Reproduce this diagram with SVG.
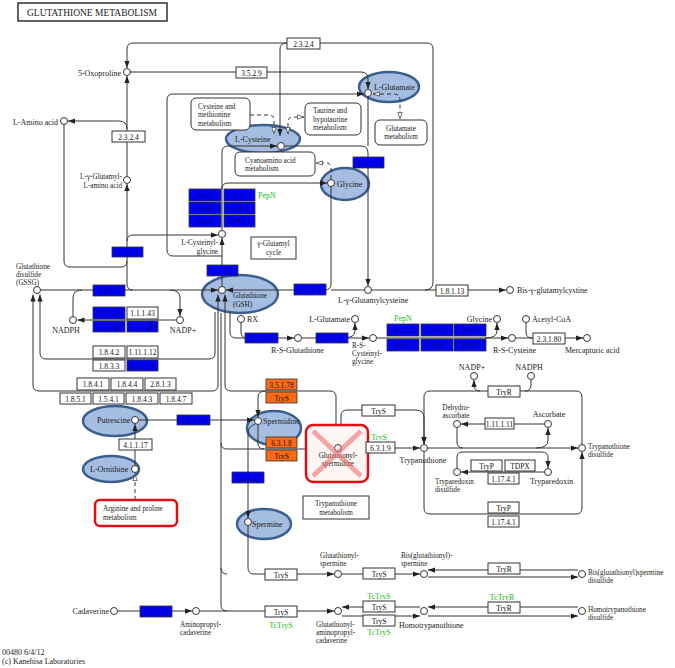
<svg xmlns="http://www.w3.org/2000/svg" width="675" height="668" viewBox="0 0 675 668">
<style>
.l{fill:none;stroke:#333;stroke-width:1}
.a{marker-end:url(#ar)}
.s{marker-start:url(#ar)}
.d{stroke-dasharray:4,3;marker-end:url(#ho)}
.ds{marker-start:url(#ho)}
.box{fill:#fff;stroke:#333;stroke-width:1}
.bb{fill:#0000f2;stroke:#333;stroke-width:0.8}
.ob{fill:#ff6a14;stroke:#333;stroke-width:0.8}
.cp{fill:#fff;stroke:#333;stroke-width:1}
.el{fill:#a4bde0;stroke:#3b5e8c;stroke-width:2.5}
.rb{fill:#fff;stroke:#333;stroke-width:1}
.t{font-family:"Liberation Serif",serif;font-size:8px;fill:#222}
.u{font-size:7.2px}
.bx{font-family:"Liberation Serif",serif;font-size:7.5px;fill:#111;text-anchor:middle}
.bt{fill:#00009a}
.m{text-anchor:middle}
.e{text-anchor:end}
.g{fill:#22bb22}
</style>
<defs>
<marker id="ar" viewBox="0 0 8 6" refX="8" refY="3" markerWidth="7" markerHeight="5.5" markerUnits="userSpaceOnUse" orient="auto-start-reverse"><path d="M0,0L8,3L0,6z" fill="#222"/></marker>
<marker id="ho" viewBox="0 0 8 6" refX="8" refY="3" markerWidth="7" markerHeight="5.5" markerUnits="userSpaceOnUse" orient="auto-start-reverse"><path d="M0.5,0.5L7.5,3L0.5,5.5z" fill="#fff" stroke="#333" stroke-width="0.8"/></marker>
</defs>
<rect width="675" height="668" fill="#fff"/>

<g id="title"><rect x="18" y="3" width="149" height="18" fill="#fff" stroke="#111" stroke-width="1.3"/><text x="27" y="16" font-family="Liberation Serif,serif" font-size="10" fill="#222" textLength="130" lengthAdjust="spacingAndGlyphs">GLUTATHIONE METABOLISM</text></g>

<!-- ellipse compounds -->
<g id="n_cys"><ellipse class="el" cx="263" cy="139" rx="37" ry="14"/><text class="t" x="235" y="142">L-Cysteine</text><circle class="cp" cx="281" cy="146" r="3.5"/></g>
<g id="n_glu"><ellipse class="el" cx="389" cy="87" rx="30" ry="15"/><text class="t" x="374" y="90">L-Glutamate</text><circle class="cp" cx="368" cy="93" r="3.5"/></g>
<g id="n_gly"><ellipse class="el" cx="345" cy="184" rx="24" ry="16"/><text class="t" x="337" y="187">Glycine</text><circle class="cp" cx="331" cy="183" r="3.5"/></g>
<g id="n_gsh"><ellipse class="el" cx="240" cy="294" rx="38" ry="19"/><text class="t u" x="233" y="298">Glutathione</text><text class="t u" x="233" y="307">(GSH)</text><circle class="cp" cx="222" cy="290" r="3.5"/></g>
<g id="n_putr"><ellipse class="el" cx="115" cy="421" rx="32" ry="15"/><text class="t" x="97" y="423">Putrescine</text><circle class="cp" cx="135" cy="420" r="3.5"/></g>
<g id="n_orn"><ellipse class="el" cx="111" cy="469" rx="28" ry="13"/><text class="t" x="90" y="472">L-Ornithine</text><circle class="cp" cx="135" cy="469" r="3.5"/></g>
<g id="n_spd"><ellipse class="el" cx="274" cy="428" rx="27" ry="17"/><text class="t" x="263" y="424">Spermidine</text><circle class="cp" cx="258" cy="421" r="3.5"/></g>
<g id="n_spm"><ellipse class="el" cx="264" cy="524" rx="27" ry="15"/><text class="t" x="252" y="527">Spermine</text><circle class="cp" cx="248" cy="522" r="3.5"/></g>

<g id="connectors">
<path class="l a" d="M425,290 Q433,290 433,282 L433,49 Q433,43 427,43 L133,43 Q127,43 127,49 L127,68"/>
<path class="l a" d="M287,43 Q280,43 280,49 L280,136"/>
<path class="l a" d="M131,72 L361,72 Q368,72 368,79 L368,89"/>
<path class="l a" d="M127,176 L127,76"/>
<path class="l a" d="M127,129 Q127,121 119,121 L68,121"/>
<path class="l" d="M64,125 L64,261 Q64,267 70,267 L121,267 Q127,267 127,261"/>
<path class="l a" d="M133,290 Q127,290 127,284 L127,184"/>
<path class="l a" d="M127,241 Q127,235 133,235 L218,235"/>
<path class="l a" d="M222,286 L222,238"/>
<path class="l a" d="M222,230 L222,152 Q222,146 228,146 L277,146"/>
<path class="l a" d="M222,189 Q222,183 228,183 L327,183"/>
<path class="l a" d="M222,256 L173,256 Q167,256 167,250 L167,100 Q167,94 173,94 L364,94"/>
<path class="l a" d="M285,146 L361,146 Q368,146 368,153 L368,286"/>
<path class="l" d="M368,97 L368,146"/>
<path class="l a" d="M331,187 L331,284 Q331,290 325,290 L226,290"/>
<path class="l" d="M364,290 L331,290"/>
<path class="l a" d="M372,290 L506,290"/>
<path class="l d" d="M250,115 L269,115 Q274,115 274,120 L274,134"/>
<path class="l d ds" d="M288,134 L288,122 Q288,117 293,117 L304,117"/>
<path class="l d" d="M331,179 L331,168 Q331,163 326,163 L316,163"/>
<path class="l d ds" d="M373,94 L394,94 Q400,94 400,100 L400,119"/>
<path class="l a" d="M41,290 L218,290"/>
<path class="l" d="M82,290 Q73,290 73,298 L73,316"/>
<path class="l a" d="M170,290 Q180,290 180,298 L180,316"/>
<path class="l a" d="M176.5,320 L77.5,320"/>
<path class="l s" d="M40,294.5 L40,353 Q40,359 46,359 L209,359 Q215,359 215,353 L215,312"/>
<path class="l a s" d="M218,294.5 L218,385 Q218,391 212,391 L39,391 Q33,391 33,385 L33,294.5"/>
<path class="l a s" d="M225,294.5 L225,385 Q225,391 231,391 L330,391 Q336,391 336,397 L336,443.5"/>
<path class="l" d="M221,313 L221,605 Q221,611 227,611"/>
<path class="l" d="M221,568 Q221,574 227,574"/>
<path class="l a" d="M221,443 Q221,449 227,449 L334,449"/>
<path class="l" d="M258,425 L258,443 Q258,449 264,449"/>
<path class="l a" d="M266,391 Q258,391 258,397 L258,417"/>
<path class="l a" d="M255,424 Q248,427 248,433 L248,518"/>
<path class="l a" d="M248,526 L248,568 Q248,574 254,574 L334,574"/>
<path class="l a" d="M139,420 L254,420"/>
<path class="l a" d="M135,465 L135,424"/>
<path class="l d" d="M135,500 L135,474"/>
<path class="l a" d="M230,312 L230,332 Q230,338 236,338 L294,338"/>
<path class="l" d="M241,323 L241,332 Q241,338 247,338"/>
<path class="l a" d="M302,338 L369,338"/>
<path class="l a" d="M343,338 Q355,338 355,331 L355,323"/>
<path class="l a" d="M377,338 L508,338"/>
<path class="l a" d="M485,338 Q497,338 497,331 L497,323"/>
<path class="l" d="M526,323 L526,332 Q526,338 532,338"/>
<path class="l a" d="M516,338 L583,338"/>
<path class="l a" d="M342,448 L420,448"/>
<path class="l a" d="M341,444 L341,416 Q341,410 347,410 L416,410 Q424,410 424,418 L424,444"/>
<path class="l a" d="M582,444 L582,397 Q582,391 576,391 L430,391 Q424,391 424,397 L424,444"/>
<path class="l" d="M531,380 L531,385 Q531,391 525,391"/>
<path class="l a" d="M480,391 Q474,391 474,385 L474,380"/>
<path class="l a" d="M428,448 L578,448"/>
<path class="l" d="M457,428 L457,442 Q457,448 463,448"/>
<path class="l a" d="M536,448 Q548,448 548,440 L548,428"/>
<path class="l a" d="M544,424 L461,424"/>
<path class="l a" d="M457,468 L457,457 Q457,452 463,452 L542,452 Q548,452 548,458 L548,468"/>
<path class="l a" d="M544,472 L461,472"/>
<path class="l a" d="M424,452 L424,508 Q424,514 430,514 L576,514 Q582,514 582,508 L582,452"/>
<path class="l a" d="M118,611 L192,611"/>
<path class="l a" d="M200,611 L334,611"/>
<path class="l a" d="M342,574 L420,574"/>
<path class="l a" d="M578,570 L428,570"/>
<path class="l a" d="M428,577 L578,577"/>
<path class="l a" d="M420,607 L342,607"/>
<path class="l a" d="M342,616 L420,616"/>
<path class="l a" d="M578,607 L428,607"/>
<path class="l a" d="M428,616 L578,616"/>
</g>

<!-- compounds -->
<g id="n_oxo"><circle class="cp" cx="127" cy="72" r="3.5"/><text class="t e" x="121" y="76">5-Oxoproline</text></g>
<g id="n_laa"><circle class="cp" cx="64" cy="121" r="3.5"/><text class="t e" x="58" y="125">L-Amino acid</text></g>
<g id="n_gglaa"><circle class="cp" cx="127" cy="180" r="3.5"/><text class="t u e" x="122" y="179">L-γ-Glutamyl-</text><text class="t u e" x="122" y="187.5">L-amino acid</text></g>
<g id="n_cysgly"><circle class="cp" cx="222" cy="234" r="3.5"/><text class="t u e" x="218" y="245">L-Cysteinyl-</text><text class="t u e" x="218" y="253.5">glycine</text></g>
<g id="n_gssg"><circle class="cp" cx="37" cy="290" r="3.5"/><text class="t u" x="16" y="269">Glutathione</text><text class="t u" x="16" y="277">disulfide</text><text class="t u" x="16" y="285">(GSSG)</text></g>
<g id="n_nadph"><circle class="cp" cx="73" cy="320" r="3.5"/><text class="t m" x="66" y="333">NADPH</text></g>
<g id="n_nadp"><circle class="cp" cx="180" cy="320" r="3.5"/><text class="t m" x="183" y="333">NADP+</text></g>
<g id="n_glucys"><circle class="cp" cx="368" cy="290" r="3.5"/><text class="t" x="338" y="303">L-γ-Glutamylcysteine</text></g>
<g id="n_bisg"><circle class="cp" cx="510" cy="290" r="3.5"/><text class="t" x="517" y="293">Bis-γ-glutamylcystine</text></g>
<g id="n_rx"><circle class="cp" cx="241" cy="319" r="3.5"/><text class="t" x="247" y="322">RX</text></g>
<g id="n_rsg"><circle class="cp" cx="298" cy="338" r="3.5"/><text class="t" x="271" y="353">R-S-Glutathione</text></g>
<g id="n_lglu2"><circle class="cp" cx="355" cy="319" r="3.5"/><text class="t e" x="350" y="322">L-Glutamate</text></g>
<g id="n_rscg"><circle class="cp" cx="373" cy="338" r="3.5"/><text class="t u" x="352" y="347.5">R-S-</text><text class="t u" x="352" y="355.5">Cysteinyl-</text><text class="t u" x="352" y="363.5">glycine</text></g>
<g id="n_gly2"><circle class="cp" cx="497" cy="319" r="3.5"/><text class="t e" x="492" y="322">Glycine</text></g>
<g id="n_rsc"><circle class="cp" cx="512" cy="338" r="3.5"/><text class="t" x="493" y="353">R-S-Cysteine</text></g>
<g id="n_acoa"><circle class="cp" cx="526" cy="319" r="3.5"/><text class="t" x="532" y="322">Acetyl-CoA</text></g>
<g id="n_merc"><circle class="cp" cx="587" cy="338" r="3.5"/><text class="t" x="565" y="353">Mercapturic acid</text></g>
<g id="n_nadp2"><circle class="cp" cx="474" cy="376" r="3.5"/><text class="t m" x="472" y="370">NADP+</text></g>
<g id="n_nadph2"><circle class="cp" cx="531" cy="376" r="3.5"/><text class="t m" x="529" y="370">NADPH</text></g>
<g id="n_dha"><circle class="cp" cx="457" cy="424" r="3.5"/><text class="t u m" x="456" y="409.5">Dehydro-</text><text class="t u m" x="456" y="417.5">ascorbate</text></g>
<g id="n_asc"><circle class="cp" cx="548" cy="424" r="3.5"/><text class="t m" x="549" y="417">Ascorbate</text></g>
<g id="n_tryp"><circle class="cp" cx="424" cy="448" r="3.5"/><text class="t m" x="423" y="463">Trypanothione</text></g>
<g id="n_trypd"><circle class="cp" cx="582" cy="448" r="3.5"/><text class="t u" x="588" y="449">Trypanothione</text><text class="t u" x="588" y="457">disulfide</text></g>
<g id="n_txnd"><circle class="cp" cx="457" cy="472" r="3.5"/><text class="t u" x="435" y="483.5">Tryparedoxin</text><text class="t u" x="435" y="491.5">disulfide</text></g>
<g id="n_txn"><circle class="cp" cx="548" cy="472" r="3.5"/><text class="t" x="530" y="484">Tryparedoxin</text></g>
<g id="n_glsp"><circle class="cp" cx="338" cy="574" r="3.5"/><text class="t u" x="320" y="558">Glutathionyl-</text><text class="t u" x="320" y="566">spermine</text></g>
<g id="n_bgsp"><circle class="cp" cx="424" cy="574" r="3.5"/><text class="t u" x="401" y="558">Bis(glutathionyl)-</text><text class="t u" x="401" y="566">spermine</text></g>
<g id="n_bgspd"><circle class="cp" cx="582" cy="574" r="3.5"/><text class="t u" x="588" y="574.5">Bis(glutathionyl)spermine</text><text class="t u" x="588" y="582.5">disulfide</text></g>
<g id="n_cad"><circle class="cp" cx="114" cy="611" r="3.5"/><text class="t e" x="109" y="614">Cadaverine</text></g>
<g id="n_apc"><circle class="cp" cx="196" cy="611" r="3.5"/><text class="t u" x="180" y="627">Aminopropyl-</text><text class="t u" x="180" y="635">cadaverine</text></g>
<g id="n_gapc"><circle class="cp" cx="338" cy="611" r="3.5"/><text class="t u" x="316" y="627">Glutathionyl-</text><text class="t u" x="316" y="635">aminopropyl-</text><text class="t u" x="316" y="643">cadaverine</text></g>
<g id="n_htr"><circle class="cp" cx="424" cy="611" r="3.5"/><text class="t" x="399" y="628">Homotrypanothione</text></g>
<g id="n_htrd"><circle class="cp" cx="582" cy="611" r="3.5"/><text class="t u" x="588" y="611.5">Homotrypanothione</text><text class="t u" x="588" y="619.5">disulfide</text></g>

<!-- glutathionylspermidine (crossed) -->
<g id="n_glspd"><rect x="306" y="425" width="62" height="57" rx="7" fill="#fdf5f3"/><circle class="cp" cx="338" cy="448" r="3.5"/><text class="t u m" x="338" y="458" fill="#555">Glutathionyl-</text><text class="t u m" x="338" y="466" fill="#555">spermidine</text><path d="M313,431 L361,476 M361,431 L313,476" stroke="#f07070" stroke-opacity="0.6" stroke-width="5" fill="none"/><rect x="306" y="425" width="62" height="57" rx="7" fill="none" stroke="#e01010" stroke-width="2.5"/></g>

<!-- maps -->
<g id="m_cysmet"><rect class="rb" x="191" y="98" width="59" height="32" rx="5"/><text class="t u" x="198" y="108.5">Cysteine and</text><text class="t u" x="198" y="117">methionine</text><text class="t u" x="198" y="125.5">metabolism</text></g>
<g id="m_taurine"><rect class="rb" x="305" y="103" width="56" height="32" rx="5"/><text class="t u" x="313" y="113">Taurine and</text><text class="t u" x="313" y="121.5">hypotaurine</text><text class="t u" x="313" y="130">metabolism</text></g>
<g id="m_glu"><rect class="rb" x="375" y="120" width="52" height="25" rx="5"/><text class="t u m" x="401" y="130.5">Glutamate</text><text class="t u m" x="401" y="139">metabolism</text></g>
<g id="m_cyano"><rect class="rb" x="235" y="152" width="80" height="24" rx="5"/><text class="t u" x="245" y="162.5">Cyanoamino acid</text><text class="t u" x="245" y="171">metabolism</text></g>
<g id="m_ggc"><rect class="rb" x="251" y="237" width="45" height="22"/><text class="t u m" x="273.5" y="246">γ-Glutamyl</text><text class="t u m" x="273.5" y="254.5">cycle</text></g>
<g id="m_tryp"><rect class="rb" x="303" y="496" width="66" height="23"/><text class="t u m" x="336" y="506">Trypanothione</text><text class="t u m" x="336" y="514.5">metabolism</text></g>
<g id="m_argpro"><rect x="95" y="500" width="82" height="26" rx="5" fill="#fff" stroke="#e01010" stroke-width="2.5"/><text class="t u" x="103" y="511">Arginine and proline</text><text class="t u" x="103" y="519.5">metabolism</text></g>

<!-- white enzyme boxes -->
<g id="e_2324t"><rect class="box" x="287" y="38" width="33" height="11"/><text class="bx" x="303.5" y="46.5">2.3.2.4</text></g>
<g id="e_3529"><rect class="box" x="236" y="67" width="31" height="11"/><text class="bx" x="251.5" y="75.5">3.5.2.9</text></g>
<g id="e_2324l"><rect class="box" x="112" y="131" width="33" height="11"/><text class="bx" x="128.5" y="139.5">2.3.2.4</text></g>
<g id="e_18113"><rect class="box" x="436" y="285" width="32" height="11"/><text class="bx" x="452" y="293.5">1.8.1.13</text></g>
<g id="e_23180"><rect class="box" x="533" y="333" width="32" height="11"/><text class="bx" x="549" y="341.5">2.3.1.80</text></g>
<g id="e_11143"><rect class="box" x="127" y="307" width="31" height="12"/><text class="bx" x="142.5" y="316">1.1.1.43</text></g>
<g id="e_1842"><rect class="box" x="93" y="346" width="32" height="12"/><text class="bx" x="109" y="355">1.8.4.2</text></g>
<g id="e_111112"><rect class="box" x="127" y="346" width="31" height="12"/><text class="bx" x="142.5" y="355">1.11.1.12</text></g>
<g id="e_1833"><rect class="box" x="93" y="360" width="32" height="11"/><text class="bx" x="109" y="368.5">1.8.3.3</text></g>
<g id="e_1841"><rect class="box" x="77" y="378" width="32" height="12"/><text class="bx" x="93" y="387">1.8.4.1</text></g>
<g id="e_1844"><rect class="box" x="111" y="378" width="32" height="12"/><text class="bx" x="127" y="387">1.8.4.4</text></g>
<g id="e_2813"><rect class="box" x="145" y="378" width="31" height="12"/><text class="bx" x="160.5" y="387">2.8.1.3</text></g>
<g id="e_1851"><rect class="box" x="60" y="393" width="31" height="11"/><text class="bx" x="75.5" y="401.5">1.8.5.1</text></g>
<g id="e_1541"><rect class="box" x="93" y="393" width="31" height="11"/><text class="bx" x="108.5" y="401.5">1.5.4.1</text></g>
<g id="e_1843"><rect class="box" x="126" y="393" width="32" height="11"/><text class="bx" x="142" y="401.5">1.8.4.3</text></g>
<g id="e_1847"><rect class="box" x="160" y="393" width="32" height="11"/><text class="bx" x="176" y="401.5">1.8.4.7</text></g>
<g id="e_41117"><rect class="box" x="119" y="439" width="33" height="11"/><text class="bx" x="135.5" y="447.5">4.1.1.17</text></g>
<g id="e_trys_w"><rect class="box" x="362" y="405" width="33" height="11"/><text class="bx" x="378.5" y="413.5">TryS</text></g>
<g id="e_6319"><rect class="box" x="366" y="442" width="29" height="11"/><text class="bx" x="380.5" y="450.5">6.3.1.9</text><text class="t m g" x="379" y="440">TryS</text></g>
<g id="e_tryr"><rect class="box" x="488" y="386" width="32" height="11"/><text class="bx" x="504" y="394.5">TryR</text></g>
<g id="e_111111"><rect class="box" x="485" y="418" width="29" height="11"/><text class="bx" x="499.5" y="426.5">1.11.1.11</text></g>
<g id="e_tryp1"><rect class="box" x="471" y="460" width="31" height="11"/><text class="bx" x="486.5" y="468.5">TryP</text></g>
<g id="e_tdpx"><rect class="box" x="505" y="460" width="30" height="11"/><text class="bx" x="520" y="468.5">TDPX</text></g>
<g id="e_11741a"><rect class="box" x="488" y="473" width="31" height="11"/><text class="bx" x="503.5" y="481.5">1.17.4.1</text></g>
<g id="e_tryp2"><rect class="box" x="488" y="502" width="31" height="11"/><text class="bx" x="503.5" y="510.5">TryP</text></g>
<g id="e_11741b"><rect class="box" x="488" y="516" width="31" height="11"/><text class="bx" x="503.5" y="524.5">1.17.4.1</text></g>
<g id="e_trys1"><rect class="box" x="265" y="569" width="32" height="11"/><text class="bx" x="281" y="577.5">TryS</text></g>
<g id="e_trys2"><rect class="box" x="363" y="568" width="32" height="11"/><text class="bx" x="379" y="576.5">TryS</text></g>
<g id="e_tryr2"><rect class="box" x="488" y="563" width="32" height="11"/><text class="bx" x="504" y="571.5">TryR</text></g>
<g id="e_trys3"><rect class="box" x="265" y="606" width="32" height="11"/><text class="bx" x="281" y="614.5">TryS</text><text class="t m g" x="281" y="628">TcTryS</text></g>
<g id="e_trys4"><rect class="box" x="363" y="601" width="32" height="11"/><text class="bx" x="379" y="609.5">TryS</text><text class="t m g" x="379" y="599">TcTryS</text></g>
<g id="e_trys5"><rect class="box" x="363" y="615" width="32" height="11"/><text class="bx" x="379" y="623.5">TryS</text><text class="t m g" x="379" y="635">TcTryS</text></g>
<g id="e_tryr3"><rect class="box" x="488" y="602" width="32" height="11"/><text class="bx" x="504" y="610.5">TryR</text><text class="t m g" x="502" y="600">TcTryR</text></g>

<!-- blue enzyme boxes -->
<g id="e_6322"><rect class="bb" x="353" y="157" width="31" height="11"/><text class="bx bt" x="368.5" y="165.5">6.3.2.2</text></g>
<g id="e_pep1"><rect class="bb" x="189" y="189" width="32" height="12"/><text class="bx bt" x="205" y="198">PepA</text><rect class="bb" x="224" y="189" width="31" height="12"/><text class="bx bt" x="239.5" y="198">3.4.11.2</text><text class="t g" x="258" y="198">PepN</text></g>
<g id="e_pep2"><rect class="bb" x="189" y="202" width="32" height="12"/><text class="bx bt" x="205" y="211">PepB</text><rect class="bb" x="224" y="202" width="31" height="12"/><text class="bx bt" x="239.5" y="211">LAP3</text></g>
<g id="e_pep3"><rect class="bb" x="189" y="215" width="32" height="12"/><text class="bx bt" x="205" y="224">PepD</text><rect class="bb" x="224" y="215" width="31" height="12"/><text class="bx bt" x="239.5" y="224">DPEP1</text></g>
<g id="e_2322a"><rect class="bb" x="112" y="247" width="31" height="10"/><text class="bx bt" x="127.5" y="255">2.3.2.2</text></g>
<g id="e_2322b"><rect class="bb" x="207" y="265" width="31" height="11"/><text class="bx bt" x="222.5" y="273.5">2.3.2.2</text></g>
<g id="e_1817"><rect class="bb" x="93" y="285" width="32" height="11"/><text class="bx bt" x="109" y="293.5">1.8.1.7</text></g>
<g id="e_6323"><rect class="bb" x="294" y="284" width="32" height="11"/><text class="bx bt" x="310" y="292.5">6.3.2.3</text></g>
<g id="e_11142"><rect class="bb" x="93" y="307" width="32" height="12"/><text class="bx bt" x="109" y="316">1.1.1.42</text></g>
<g id="e_11144"><rect class="bb" x="93" y="321" width="32" height="11"/><text class="bx bt" x="109" y="329.5">1.1.1.44</text></g>
<g id="e_11149"><rect class="bb" x="127" y="321" width="31" height="11"/><text class="bx bt" x="142.5" y="329.5">1.1.1.49</text></g>
<g id="e_11119"><rect class="bb" x="127" y="360" width="31" height="11"/><text class="bx bt" x="142.5" y="368.5">1.11.1.9</text></g>
<g id="e_25118"><rect class="bb" x="245" y="333" width="33" height="10"/><text class="bx bt" x="261.5" y="341">2.5.1.18</text></g>
<g id="e_2322c"><rect class="bb" x="316" y="333" width="32" height="10"/><text class="bx bt" x="332" y="341">2.3.2.2</text></g>
<g id="e_pepr1"><rect class="bb" x="387" y="324" width="32" height="12"/><text class="bx bt" x="403" y="333">3.4.11.2</text><rect class="bb" x="421" y="324" width="32" height="12"/><text class="bx bt" x="437" y="333">LAP3</text><rect class="bb" x="454" y="324" width="32" height="12"/><text class="bx bt" x="470" y="333">DPEP1</text><text class="t m g" x="403" y="321">PepN</text></g>
<g id="e_pepr2"><rect class="bb" x="387" y="339" width="32" height="12"/><text class="bx bt" x="403" y="348">PepA</text><rect class="bb" x="421" y="339" width="32" height="12"/><text class="bx bt" x="437" y="348">PepB</text><rect class="bb" x="454" y="339" width="32" height="12"/><text class="bx bt" x="470" y="348">PepD</text></g>
<g id="e_25116a"><rect class="bb" x="177" y="415" width="33" height="10"/><text class="bx bt" x="193.5" y="423">2.5.1.16</text></g>
<g id="e_25122"><rect class="bb" x="232" y="472" width="32" height="11"/><text class="bx bt" x="248" y="480.5">2.5.1.22</text></g>
<g id="e_25116b"><rect class="bb" x="140" y="606" width="32" height="11"/><text class="bx bt" x="156" y="614.5">2.5.1.16</text></g>

<!-- orange enzyme boxes -->
<g id="e_35178"><rect class="ob" x="266" y="379" width="31" height="11"/><text class="bx" x="281.5" y="387.5">3.5.1.78</text></g>
<g id="e_trys_o1"><rect class="ob" x="266" y="392" width="31" height="11"/><text class="bx" x="281.5" y="400.5">TryS</text></g>
<g id="e_6318"><rect class="ob" x="266" y="437" width="31" height="11"/><text class="bx" x="281.5" y="445.5">6.3.1.8</text></g>
<g id="e_trys_o2"><rect class="ob" x="266" y="450" width="31" height="11"/><text class="bx" x="281.5" y="458.5">TryS</text></g>

<g id="footer"><text class="t" x="2" y="655">00480 6/4/12</text><text class="t" x="2" y="664">(c) Kanehisa Laboratories</text></g>
</svg>
